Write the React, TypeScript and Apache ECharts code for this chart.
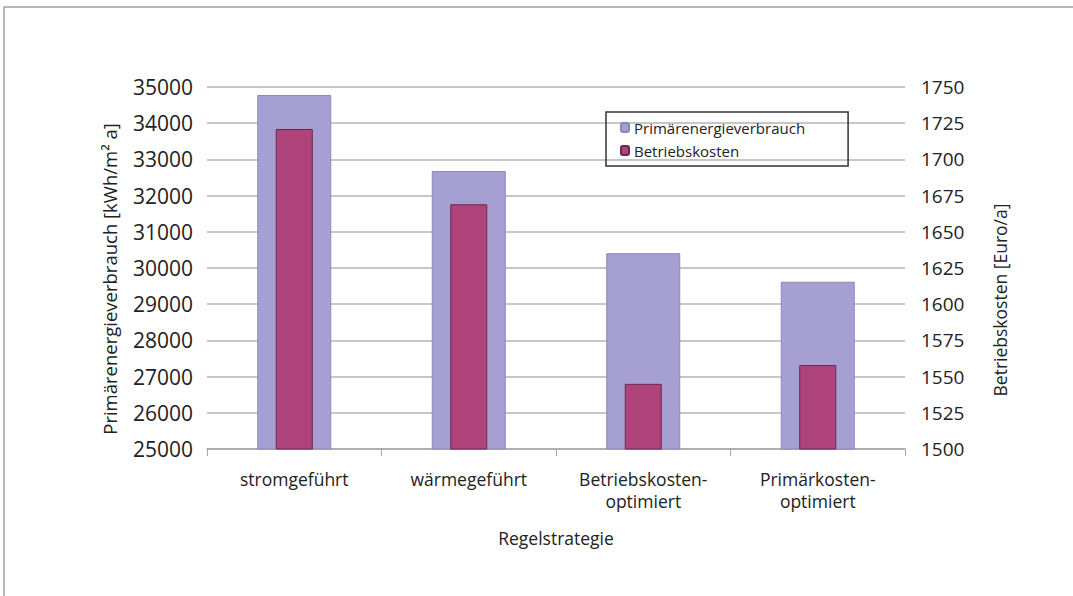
import React, { useEffect, useRef } from "react";
import * as echarts from "echarts";

const categories = ["stromgeführt", "wärmegeführt", "Betriebskosten-\noptimiert", "Primärkosten-\noptimiert"];
const primaryEnergy = [34780, 32680, 30410, 29620];
const operatingCosts = [1721, 1669, 1545, 1558];
const seriesNames = ["Primärenergieverbrauch", "Betriebskosten"];
const leftAxisName = "Primärenergieverbrauch [kWh/m² a]";
const rightAxisName = "Betriebskosten [Euro/a]";
const xAxisName = "Regelstrategie";

const FONT = "Open Sans";
const plain = (v: number) => String(v);

export default function App() {
  const ref = useRef<HTMLDivElement>(null);
  useEffect(() => {
    if (!ref.current) return;
    const chart = echarts.init(ref.current, undefined, { renderer: "svg" });
    chart.setOption({
      animation: false,
      backgroundColor: "#ffffff",
      textStyle: { fontFamily: FONT, color: "#222" },
      graphic: [
        {
          type: "rect",
          shape: { x: 4, y: 7, width: 1100, height: 620 },
          style: { fill: "none", stroke: "#a0a0a0", lineWidth: 1.5 },
          silent: true,
        },
      ],
      legend: {
        orient: "vertical",
        left: 606,
        top: 112,
        padding: [8, 43, 8, 14],
        itemWidth: 8,
        itemHeight: 9,
        itemGap: 8,
        borderColor: "#333",
        borderWidth: 1.5,
        textStyle: { fontFamily: FONT, fontSize: 15, color: "#222" },
        data: seriesNames,
      },
      grid: { left: 207, right: 168, top: 87, bottom: 147, containLabel: false },
      xAxis: [
        {
          type: "category",
          data: categories,
          axisLine: { show: true, lineStyle: { color: "#a8a8a8", width: 1.5 } },
          axisTick: { show: true, length: 7, lineStyle: { color: "#a8a8a8" } },
          axisLabel: { fontFamily: FONT, fontSize: 17.5, color: "#222", margin: 19, lineHeight: 22 },
          name: xAxisName,
          nameLocation: "middle",
          nameGap: 80,
          nameTextStyle: { fontFamily: FONT, fontSize: 17.5, color: "#222" },
        },
        {
          type: "category",
          data: categories,
          show: false,
        },
      ],
      yAxis: [
        {
          type: "value",
          min: 25000,
          max: 35000,
          interval: 1000,
          axisLine: { show: false },
          axisTick: { show: false },
          splitLine: { show: true, lineStyle: { color: "#b5b5b5", width: 1.5 } },
          axisLabel: { fontFamily: FONT, fontSize: 21, color: "#222", margin: 14, formatter: plain },
          name: leftAxisName,
          nameLocation: "middle",
          nameRotate: 90,
          nameGap: 88,
          nameTextStyle: { fontFamily: FONT, fontSize: 18.5, color: "#222", padding: [0, 22, 0, 0] },
        },
        {
          type: "value",
          min: 1500,
          max: 1750,
          interval: 25,
          position: "right",
          axisLine: { show: false },
          axisTick: { show: false },
          splitLine: { show: false },
          axisLabel: { fontFamily: FONT, fontSize: 19, color: "#222", margin: 16, formatter: plain },
          name: rightAxisName,
          nameLocation: "middle",
          nameRotate: 90,
          nameGap: 86,
          nameTextStyle: { fontFamily: FONT, fontSize: 17.5, color: "#222", padding: [0, 64, 0, 0] },
        },
      ],
      series: [
        {
          name: seriesNames[0],
          type: "bar",
          xAxisIndex: 0,
          yAxisIndex: 0,
          barWidth: 74,
          data: primaryEnergy,
          itemStyle: { color: "#a59fd2", borderColor: "#8c86ba", borderWidth: 1 },
        },
        {
          name: seriesNames[1],
          type: "bar",
          xAxisIndex: 1,
          yAxisIndex: 1,
          barWidth: 37,
          data: operatingCosts,
          itemStyle: { color: "#ae4479", borderColor: "#6e2550", borderWidth: 1 },
        },
      ],
    });
    return () => chart.dispose();
  }, []);
  return (
    <div
      ref={ref}
      style={{ position: "fixed", left: 0, top: 0, width: 1073, height: 596 }}
    />
  );
}
